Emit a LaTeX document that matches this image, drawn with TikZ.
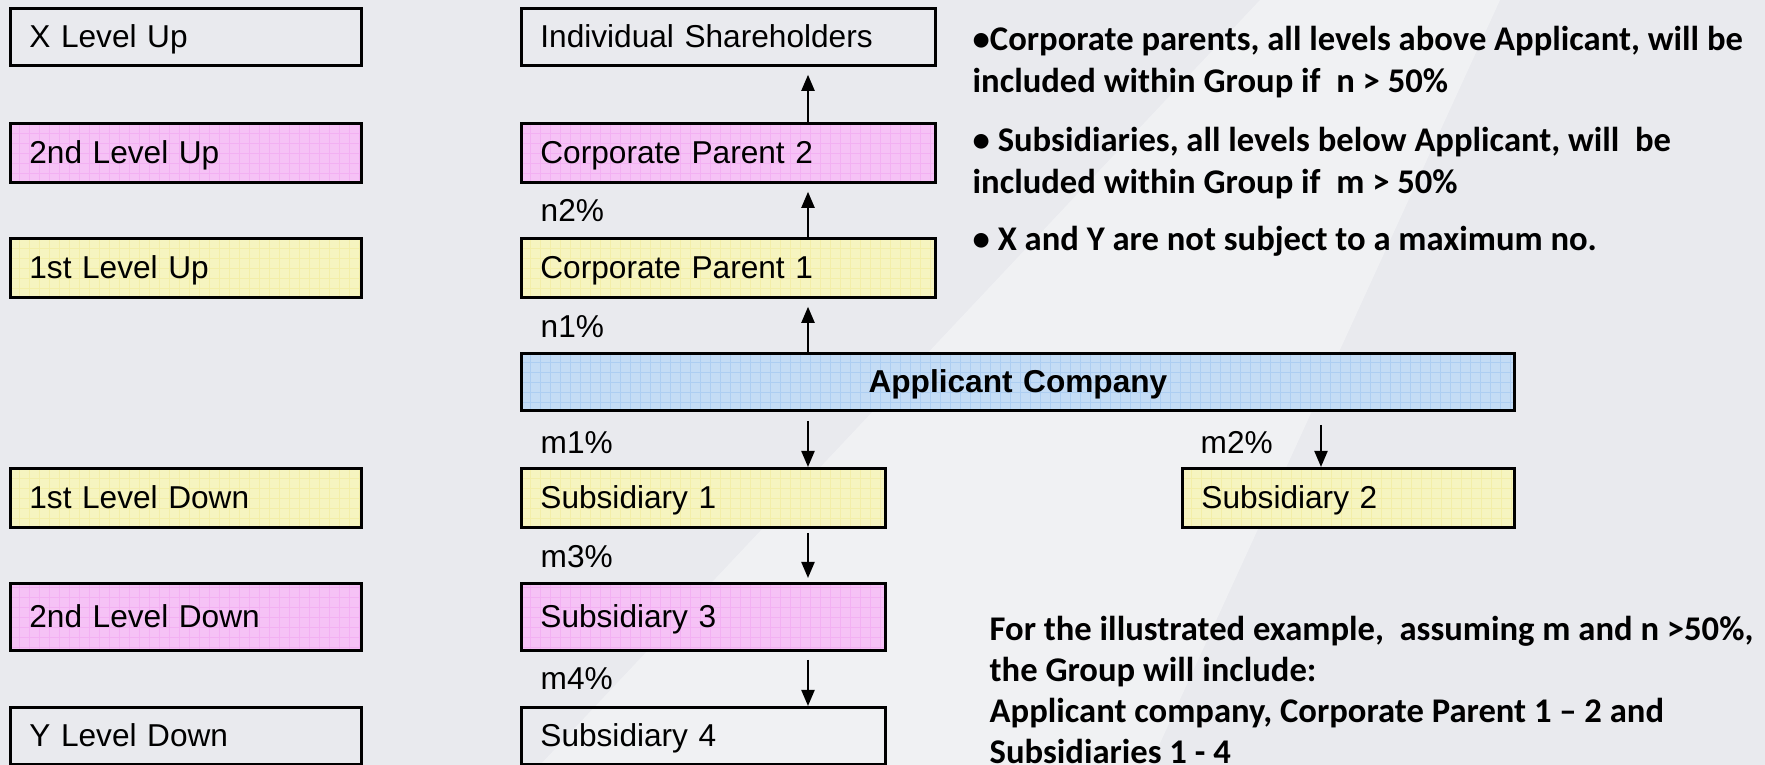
\documentclass[tikz,border=0pt]{standalone}
\usepackage{fontspec}
\setmainfont{Liberation Sans}
\newfontfamily\carlito{Carlito}
\usepackage{tikz}
\usetikzlibrary{arrows.meta,positioning}

\definecolor{bgcol}{HTML}{E9EAEE}
\definecolor{pinkf}{HTML}{F6C2F6}
\definecolor{pinkg}{HTML}{F3B0F3}
\definecolor{yellowf}{HTML}{F6F4C0}
\definecolor{yellowg}{HTML}{F3EEA8}
\definecolor{bluef}{HTML}{C4DCF5}
\definecolor{blueg}{HTML}{ADCEF2}

\tikzset{
  box/.style={draw=black, line width=0.8pt, anchor=north west, inner xsep=1.9mm, inner ysep=0pt,
    text height=2.3mm, text depth=0.2mm, align=left, font=\fontsize{9}{11}\selectfont},
  pinkb/.style={fill=pinkf, path picture={\draw[pinkg, line width=0.15pt]
    (path picture bounding box.north west) grid[step=1mm] (path picture bounding box.south east);}},
  yellowb/.style={fill=yellowf, path picture={\draw[yellowg, line width=0.15pt]
    (path picture bounding box.north west) grid[step=1mm] (path picture bounding box.south east);}},
  blueb/.style={fill=bluef, path picture={\draw[blueg, line width=0.15pt]
    (path picture bounding box.north west) grid[step=1mm] (path picture bounding box.south east);}},
  plainb/.style={fill=none},
  pct/.style={anchor=west, inner sep=0pt, font=\fontsize{9}{11}\selectfont},
  note/.style={anchor=north west, inner sep=0pt, align=left, font=\carlito\bfseries\fontsize{9.85}{11.85}\selectfont},
  link/.style={->, line width=0.6pt}
}

\begin{document}
\begin{tikzpicture}[x=0.1mm, y=-0.1mm, >={Triangle[length=1.6mm,width=1.3mm]}]
    % Background and light beam
    \fill[bgcol] (0,0) rectangle (1765,765);
    \fill[white, opacity=0.35] (1260,0) -- (1500,0) -- (1150,765) -- (540,765) -- cycle;
    \useasboundingbox (0,0) rectangle (1765,765);

    % Levels
    \foreach \nm/\yy/\hh/\st/\txt in {xup/7/5.7/plainb/X Level Up, up2/122/5.9/pinkb/2nd Level Up,
        up1/237/5.9/yellowb/1st Level Up, down1/467/5.9/yellowb/1st Level Down,
        down2/582/6.7/pinkb/2nd Level Down, ydown/706/5.7/plainb/Y Level Down}
      \node[box, \st, minimum height=\hh mm, text width=31.3mm] (\nm) at (9,\yy) {\txt};

    % Parents
    \node[box, plainb, minimum height=5.7mm, text width=37.6mm] (holders) at (520,7) {Individual Shareholders};
    \node[box, pinkb, minimum height=5.9mm, text width=37.6mm] (cp2) at (520,122) {Corporate Parent 2};
    \node[box, yellowb, minimum height=5.9mm, text width=37.6mm] (cp1) at (520,237) {Corporate Parent 1};

    % Applicant
    \node[box, blueb, minimum height=5.7mm, text width=95.5mm, align=center, font=\bfseries\fontsize{9}{11}\selectfont]
      (app) at (520,352) {Applicant Company};

    % Subsidiaries
    \node[box, yellowb, minimum height=5.9mm, text width=32.6mm] (sub1) at (520,467) {Subsidiary 1};
    \node[box, yellowb, minimum height=5.9mm, text width=29.4mm] (sub2) at (1181,467) {Subsidiary 2};
    \node[box, pinkb, minimum height=6.7mm, text width=32.6mm] (sub3) at (520,582) {Subsidiary 3};
    \node[box, plainb, minimum height=5.7mm, text width=32.6mm] (sub4) at (520,706) {Subsidiary 4};

    % Shares
    \node[pct] (n2) at (540,211) {n2\%};
    \node[pct] (n1) at (540,327) {n1\%};
    \node[pct] (m1) at (540,443) {m1\%};
    \node[pct] (m2) at (1200,443) {m2\%};
    \node[pct] (m3) at (540,557) {m3\%};
    \node[pct] (m4) at (540,679) {m4\%};

    % Arrows
    \coordinate (col) at (808,0);
    \coordinate (col2) at (1321,0);
    \draw[link, shorten >=0.8mm] (cp2.north -| col) -- (holders.south -| col);
    \draw[link, shorten >=0.8mm] (cp1.north -| col) -- (cp2.south -| col);
    \draw[link, shorten >=0.8mm] (app.north -| col) -- (cp1.south -| col);
    \draw[link, shorten <=0.9mm] (app.south -| col) -- (sub1.north -| col);
    \draw[link, shorten <=1.3mm] (app.south -| col2) -- (sub2.north -| col2);
    \draw[link, shorten <=0.4mm, shorten >=0.4mm] (sub1.south -| col) -- (sub3.north -| col);
    \draw[link, shorten <=0.8mm] (sub3.south -| col) -- (sub4.north -| col);

    % Notes
    \node[note] (rule1) at (972,26) {•Corporate parents, all levels above Applicant, will be\\included within Group if\ \ n > 50\%};
    \node[note] (rule2) at (972,127) {• Subsidiaries, all levels below Applicant, will\ \ be\\included within Group if\ \ m > 50\%};
    \node[note] (rule3) at (972,226) {• X and Y are not subject to a maximum no.};
    \node[note, font=\carlito\bfseries\fontsize{9.85}{11.6}\selectfont] (result) at (989,616)
      {For the illustrated example,\ \ assuming m and n >50\%,\\the Group will include:\\Applicant company, Corporate Parent 1 – 2 and\\Subsidiaries 1 - 4};
\end{tikzpicture}
\end{document}
